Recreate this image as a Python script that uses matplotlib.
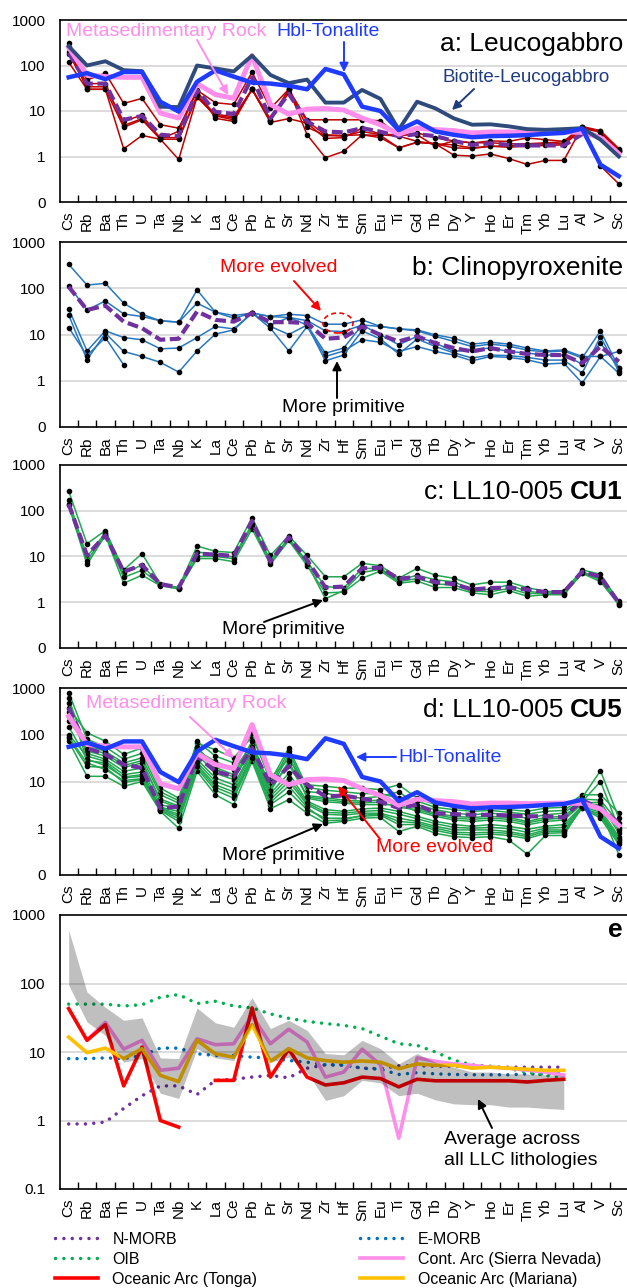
import numpy as np
import matplotlib
matplotlib.use("Agg")
import matplotlib.pyplot as plt
from matplotlib.patches import Ellipse
from matplotlib.ticker import NullLocator

plt.rcParams['font.family'] = ['Liberation Sans', 'DejaVu Sans']

nan = np.nan

elements = ['Cs', 'Rb', 'Ba', 'Th', 'U', 'Ta', 'Nb', 'K', 'La', 'Ce', 'Pb', 'Pr', 'Sr', 'Nd',
            'Zr', 'Hf', 'Sm', 'Eu', 'Ti', 'Gd', 'Tb', 'Dy', 'Y', 'Ho', 'Er', 'Tm', 'Yb', 'Lu',
            'Al', 'V', 'Sc']

# reference rocks used in panels a and d
hbl_tonalite = [55, 68, 50, 72, 72, 16, 9.7, 44, 78, 57, 42, 40, 36, 30, 84, 64, 12.5, 10, 3.8, 5.9,
                3.55, 3.0, 2.65, 2.8, 2.85, 2.95, 3.15, 3.3, 4.1, 0.66, 0.37]
metased_rock = [250, 62, 57, 55, 55, 9, 7, 40, 23, 19, 165, 14, 8.5, 11, 11.3, 10.5, 7, 5, 3.1, 4.2,
                3.9, 3.7, 3.3, 3.45, 3.45, 3.35, 3.4, 3.45, 3.4, 2.6, 1.15]
biotite_leucogabbro = [265, 100, 124, 79, 75, 12.4, 12.2, 100, 86, 74, 165, 62, 41, 49, 15.3, 15.3, 29,
                       18.5, 3.9, 16, 11.4, 6.9, 5.0, 5.1, 4.6, 4.0, 3.86, 4.0, 4.2, 2.34, 1.0]

# a: Leucogabbro samples
leuco_samples = [
    [305, 48, 68, 14.7, 18.9, 5.0, 4.2, 28.6, 15.2, 13.9, 71.6, 11.4, 30, 6.4, 6.4, 6.4, 6.4, 6.1, 2.8, 3.3,
     2.6, 2.2, 1.98, 2.2, 2.15, 2.55, 2.35, 2.15, 4.56, 3.7, 1.49],
    [180, 34, 34, 5.9, 8.2, 2.4, 2.4, 20.4, 7.8, 6.4, 30, 5.9, 30, 4.4, 2.9, 2.8, 3.55, 3.0, 2.8, 2.15,
     1.9, 1.8, 1.54, 1.68, 1.7, 1.8, 1.9, 1.9, 4.2, 3.4, 1.3],
    [118, 30, 30, 4.4, 6.4, 2.4, 3.6, 28, 6.9, 5.9, 30, 5.6, 6.8, 5.4, 2.5, 2.6, 4.2, 3.1, 3.0, 3.0,
     1.68, 2.2, 2.0, 2.0, 1.9, 1.9, 2.0, 2.1, 4.4, 3.6, 1.4],
    [250, 30, 30, 1.47, 2.9, 2.4, 0.86, 20.4, 8.0, 7.0, 30, 6.5, 30, 3.0, 0.94, 1.3, 3.0, 2.6, 1.55, 2.05,
     1.9, 1.07, 1.02, 1.14, 0.9, 0.67, 0.82, 0.82, 4.5, 0.62, 0.25],
    [200, 40, 40, 4.8, 6.8, 2.6, 2.6, 22, 8.5, 7.5, 30, 6.5, 25, 6.0, 3.0, 2.9, 3.0, 2.9, 1.55, 2.05,
     1.9, 1.55, 1.5, 1.68, 1.6, 1.7, 1.75, 1.8, 4.0, 2.8, 1.3],
]
leuco_avg = [190, 40, 40, 6.4, 7.8, 3.0, 2.8, 28.6, 9.6, 8.6, 55, 6.9, 24, 5.9, 3.55, 3.38, 4.2, 3.5, 2.8,
             3.1, 2.8, 2.2, 1.8, 1.95, 1.8, 1.75, 1.75, 1.75, 3.1, nan, nan]

# b: Clinopyroxenite samples
cpx_samples = [
    [330, 117, 128, 47.6, 27.4, 19.8, 18.5, 92, 30.4, 25.7, 29, 24.5, 27.4, 25.7, 16.7, 16.7, 20.7, 14.9,
     13.2, 12.6, 9.8, 8.3, 6.2, 6.8, 6.2, 5.1, 4.4, 4.66, 3.35, 3.35, 4.3],
    [114, 34, 53, 27.8, 24.5, 19.8, 18.5, 47.6, 30.4, 22.5, 29, 24.5, 23.3, 20, 12, 11.6, 16.1, 14.9,
     13.2, 12, 9.1, 7.1, 5.5, 6.2, 5.6, 4.6, 4.2, 4.4, 3.1, 12, 1.9],
    [36, 4.4, 12, 8.6, 7.7, 4.9, 5.1, 8.6, 14.9, 13.2, 29, 16.1, 23.3, 16.1, 3.95, 5.1, 16.1, 9.8,
     6.0, 9.1, 6.5, 4.3, 4.66, 5.1, 4.3, 3.95, 3.6, 3.6, 2.3, 6.5, 1.88],
    [26.5, 2.84, 10.7, 4.3, 3.35, 2.5, 1.54, 4.4, 10.2, 12.6, 29, 13.7, 4.4, 14.9, 3.35, 4.4, 7.7, 6.8,
     4.3, 5.5, 4.3, 3.6, 2.7, 3.35, 3.2, 2.84, 2.3, 2.4, 0.89, 3.35, 1.46],
    [14.1, 3.5, 8.6, 2.2, nan, nan, nan, nan, nan, nan, nan, 15, 10, 16, 2.7, 3.6, 12, 8,
     3.8, 8, 5.5, 4.0, 3.1, 3.6, 3.5, 3.2, 2.8, 2.8, 1.46, 9, 1.6],
]
cpx_avg = [108, 34, 42, 19, 13.7, 7.7, 8.1, 31.4, 20.7, 19, 28.9, 18.5, 18.5, 17.6, 8.1, 8.6, 14.9, 9.8,
           7.1, 9.1, 6.5, 5.1, 4.3, 5.1, 4.3, 3.8, 3.6, 3.6, 2.4, 5.5, 2.6]

# c: LL10-005 CU1 samples
cu1_samples = [
    [270, 19, 37, 5.1, 11.6, 2.5, 2.1, 16.9, 13, 12.2, 71, 10.6, 28, 10.6, 3.6, 3.6, 7.1, 6.3, 3.35, 5.5,
     3.9, 3.35, 2.4, 2.75, 2.75, 2.1, 1.72, 1.72, 5.1, 4.1, 1.05],
    [173, 9.8, 33, 4.3, 6.5, 2.4, 2.04, 12.6, 11, 9.8, 51, 8.3, 25, 7.7, 2.2, 2.04, 5.5, 5.5, 3.0, 3.9,
     3.1, 2.8, 1.9, 1.9, 2.4, 1.72, 1.6, 1.6, 4.6, 3.4, 0.97],
    [132, 6.7, 29, 2.6, 3.9, 2.3, 1.95, 9.0, 9, 7.7, 40, 6.7, 22.4, 6.3, 1.6, 1.67, 3.35, 4.8, 2.6, 2.9,
     2.1, 2.1, 1.6, 1.46, 1.8, 1.35, 1.46, 1.46, 4.3, 2.8, 0.89],
    [140, 8, 31, 3.5, 5, 2.4, 2.0, 10, 10, 9, 45, 7.5, 24, 7, 1.2, 1.8, 4.5, 5.2, 2.8, 3.3,
     2.5, 2.4, 1.75, 1.7, 2.0, 1.55, 1.55, 1.55, 4.45, 3.1, 0.93],
]
cu1_avg = [140, 10.6, 29, 4.66, 6.5, 2.5, 2.1, 11.6, 11, 10.3, 60, 7.7, 26.5, 8.3, 2.1, 2.2, 5.5, 5.7,
           3.24, 3.6, 2.75, 2.5, 1.9, 2.04, 2.1, 1.9, 1.67, 1.67, 4.66, 3.6, 0.97]

# d: LL10-005 CU5 samples
cu5_samples = [
    [380, 110, 73, 38, 52, 7.2, 4.4, 65, 48, 32, 90, 11.9, 30, 8.5, 7.9, 7.2, 7.2, 6.7, 8.5, 4.4,
     3.2, 2.9, 2.7, 2.7, 2.5, 2.3, 2.7, 2.8, 5.2, 5.2, 2.1],
    [800, 80, 55, 30, 40, 6.0, 3.9, 73, 35, 25, 110, 10, 52, 7.5, 6.5, 6.0, 5.5, 5.5, 4.4, 3.8,
     2.8, 2.5, 2.3, 2.4, 2.2, 2.0, 2.3, 2.4, 4.5, 17, 1.64],
    [200, 60, 44, 25, 32, 5.2, 3.45, 45, 27, 18, 60, 7.9, 45, 6.1, 5.6, 4.8, 4.4, 4.8, 6.0, 3.2,
     2.5, 2.1, 1.94, 2.1, 1.94, 1.64, 1.94, 2.1, 4.2, 4.0, 1.3],
    [600, 45, 35, 20, 25, 4.2, 3.0, 55, 20, 14, 73, 7.0, 23, 5.0, 4.5, 4.0, 3.8, 4.0, 3.6, 2.7,
     2.1, 1.8, 1.7, 1.8, 1.7, 1.4, 1.7, 1.8, 3.7, 10, 1.0],
    [300, 40, 30, 16.5, 19.5, 3.2, 2.6, 38, 15, 11, 50, 6.7, 38, 4.4, 3.7, 3.45, 3.2, 3.2, 3.2, 2.3,
     1.8, 1.5, 1.4, 1.5, 1.4, 1.18, 1.4, 1.5, 3.3, 3.2, 0.8],
    [100, 35, 27, 14, 16, 2.8, 2.3, 30, 11.9, 8.5, 44, 5.5, 15, 3.8, 2.5, 2.3, 2.6, 2.7, 2.3, 1.8,
     1.4, 1.2, 1.1, 1.2, 1.1, 0.95, 1.1, 1.2, 3.0, 2.5, 0.66],
    [480, 28, 25, 11.9, 12.9, 2.6, 1.8, 23, 8.5, 6.0, 35, 4.1, 10, 3.2, 2.0, 1.9, 2.1, 2.1, 1.64, 1.4,
     1.1, 0.92, 0.92, 0.92, 0.85, 0.72, 0.92, 0.92, 2.7, 2.0, 0.55],
    [85, 21, 20, 9.5, 11, 2.4, 1.4, 19, 6.5, 4.4, 30, 3.2, 6, 2.5, 1.64, 1.64, 1.8, 1.9, 1.2, 1.2,
     0.9, 0.75, 0.72, 0.75, 0.7, 0.6, 0.78, 0.8, 2.7, 1.64, 0.45],
    [73, 12.9, 12.9, 7.9, 10, 2.3, 1.0, 16.5, 5.2, 3.2, 27, 2.6, 4.1, 2.1, 1.28, 1.4, 1.64, 1.7, 0.85, 1.1,
     0.78, 0.66, 0.63, 0.66, 0.56, 0.28, 0.7, 0.7, 3.0, 2.5, 0.27],
    [250, 50, 40, 22, 28, 3.8, 2.8, 50, 18, 12.5, 55, 6.2, 27, 4.7, 4.1, 3.7, 3.5, 3.6, 2.8, 2.5,
     1.95, 1.65, 1.55, 1.65, 1.55, 1.3, 1.55, 1.65, 3.5, 3.6, 0.9],
    [150, 30, 22, 12.5, 14, 2.7, 2.0, 26, 10, 7.2, 40, 4.8, 12, 3.5, 2.2, 2.1, 2.3, 2.4, 2.0, 1.6,
     1.25, 1.05, 1.0, 1.05, 0.98, 0.82, 1.0, 1.05, 2.9, 2.2, 0.6],
    [90, 25, 18, 10.5, 11.5, 2.5, 1.6, 21, 7.5, 5.2, 32, 3.6, 8, 2.8, 1.45, 1.5, 1.9, 2.0, 1.4, 1.3,
     1.0, 0.82, 0.8, 0.82, 0.78, 0.66, 0.85, 0.86, 2.8, 1.8, 0.5],
]
cu5_avg = [380, 52, 38, 23, 19.5, 2.7, 2.9, 35, 16.5, 12.9, 52, 8.5, 21, 8.5, 4.8, 5.0, 4.3, 3.7, 2.7,
           3.2, 2.1, 2.0, 1.94, 1.94, 1.87, 1.8, 1.8, 1.7, 4.0, 2.6, 1.3]

# e: reference compositions, Cs..Lu
n_morb = [0.89, 0.89, 0.95, 1.5, 2.3, 3.2, 3.2, 2.4, 3.85, 4.0, 4.3, 4.55, 4.2, 5.8, 6.5, 6.5, 5.8, 5.7,
          6.3, 6.3, 6.2, 6.2, 6.1, 6.0, 6.0, 6.0, 6.0, 6.0]
e_morb = [8.0, 8.0, 8.2, 8.0, 8.9, 11.4, 11.4, 9.4, 8.9, 8.9, 8.4, 8.2, 7.5, 7.1, 6.5, 6.4, 5.8, 5.6,
          4.7, 5.0, 4.8, 4.7, 4.65, 4.65, 4.65, 4.8, 4.8, 5.0]
oib = [50, 50, 50, 47, 49, 63, 69, 51, 55, 47, 44, 36, 31, 28, 26, 24.5, 22, 17, 13.2, 12.5, 10, 7.6,
       6.5, 6.2, 5.7, 5.1, 4.55, 4.2]
cont_arc = [nan, 15, 27, 11, 14.8, 5.4, 5.8, 15.6, 12.8, 13.2, 34, 13.2, 21.5, 14, 4.3, 5.1, 11, 6.5,
            0.55, 8.2, 7.3, 6.7, 6.4, 6.0, 5.8, 5.4, 5.1, 4.6]
tonga = [43, 14.8, 25, 3.2, 11.8, 1.0, 0.8, nan, 3.85, 3.85, 44, 4.3, 11, 4.3, 3.3, 3.55, 4.3, 4.1,
         3.1, 4.0, 3.8, 3.8, 3.8, 3.8, 3.8, 3.65, 3.85, 4.0]
mariana = [16.5, 9.8, 11.4, 8.0, 11.2, 4.55, 3.7, 14.8, 9.4, 8.4, 25, 7.3, 11.2, 8.2, 7.5, 7.1, 7.4,
           7.1, 5.7, 6.7, 6.4, 6.4, 5.8, 6.0, 5.8, 5.6, 5.4, 5.4]
llc_upper = [600, 75, 45, 29, 31.5, 8.2, 8.0, 44, 26.7, 23, 62, 22, 29, 20.7, 9.5, 9.1, 14.8, 11.2,
             6.7, 9.5, 7.1, 6.0, 5.1, 5.1, 4.8, 4.8, 4.65, 4.55]
llc_lower = [95, 27.5, 17.5, 7.1, 8.0, 2.5, 2.1, 11.2, 8.2, 7.5, 26, 7.1, 8.4, 5.1, 1.96, 2.3, 3.85,
             3.55, 2.3, 2.5, 2.0, 1.75, 1.7, 1.7, 1.57, 1.57, 1.5, 1.45]

W, H = 627, 1288
PINK = '#FF8DEB'
BLUE = '#1F3BFF'
NAVY = '#2F4B7C'
PURPLE = '#7030A0'

fig = plt.figure(figsize=(W / 100, H / 100), dpi=100)


def P(x, y):
    # pixel position (from top-left) -> figure fraction
    return (x / W, 1 - y / H)


def make_axes(top, bottom, zero_label='0'):
    ax = fig.add_axes([59.5 / W, 1 - bottom / H, (628 - 59.5) / W, (bottom - top) / H])
    ax.set_yscale('log')
    ax.set_ylim(0.1, 1000)
    ax.set_yticks([0.1, 1, 10, 100, 1000])
    ax.set_yticklabels([zero_label, '1', '10', '100', '1000'])
    ax.yaxis.set_minor_locator(NullLocator())
    ax.tick_params(axis='y', length=0, pad=10, labelsize=11)
    ax.set_xlim(-0.5, 30.5)
    ax.set_xticks(np.arange(0.5, 30, 1))
    ax.set_xticklabels([])
    ax.set_xticks(np.arange(len(elements)), minor=True)
    ax.set_xticklabels(elements, minor=True, rotation=90)
    ax.tick_params(axis='x', which='major', direction='in', length=5, width=1)
    ax.tick_params(axis='x', which='minor', length=0, pad=7, labelsize=11)
    for g in [1, 10, 100]:
        ax.axhline(g, color='#D9D9D9', lw=1.3, zorder=0)
    for s in ax.spines.values():
        s.set_linewidth(1.2)
    return ax


def samples(ax, rows, color):
    x = np.arange(len(elements))
    for r in rows:
        ax.plot(x, r, color=color, lw=1.1, marker='o', ms=3, mfc='k', mec='k', zorder=2)


def average(ax, vals):
    ax.plot(np.arange(len(elements)), vals, color=PURPLE, lw=3, dashes=(2.6, 1.1),
            dash_capstyle='butt', zorder=3)


def arrow(xy_from, xy_to, color):
    fig.add_artist(matplotlib.patches.FancyArrowPatch(
        P(*xy_from), P(*xy_to), transform=fig.transFigure, arrowstyle='-|>',
        mutation_scale=13, color=color, lw=1.4, shrinkA=0, shrinkB=0))


def label(x, y, s, color='k', size=14, **kw):
    fig.text(*P(x, y), s, color=color, fontsize=size, ha='left', va='center', **kw)


renderer = fig.canvas.get_renderer()


def panel_title(y, regular, bold=None):
    if bold is None:
        fig.text(*P(623, y), regular, ha='right', va='baseline', fontsize=19)
        return
    tb = fig.text(*P(623, y), bold, ha='right', va='baseline', fontsize=19, fontweight='bold')
    x0 = tb.get_window_extent(renderer=renderer).x0
    fig.text((x0 - 7) / W, 1 - y / H, regular, ha='right', va='baseline', fontsize=19)


x = np.arange(len(elements))

# ---- a: Leucogabbro
ax_a = make_axes(20, 202)
samples(ax_a, leuco_samples, '#C00000')
average(ax_a, leuco_avg)
ax_a.plot(x, metased_rock, color=PINK, lw=3.6, zorder=4)
ax_a.plot(x, biotite_leucogabbro, color=NAVY, lw=2.8, zorder=4.5)
ax_a.plot(x, hbl_tonalite, color=BLUE, lw=3.2, zorder=5)
panel_title(51, 'a: Leucogabbro')
label(66, 32, 'Metasedimentary Rock', PINK)
arrow((197, 40), (228, 95), PINK)
label(276, 32, 'Hbl-Tonalite', BLUE)
arrow((344, 42), (344, 72), BLUE)
label(443, 77, 'Biotite-Leucogabbro', '#203C80', 13.5)
arrow((474, 89), (452, 110), '#203C80')

# ---- b: Clinopyroxenite
ax_b = make_axes(242, 427)
samples(ax_b, cpx_samples, '#2878C0')
average(ax_b, cpx_avg)
panel_title(275, 'b: Clinopyroxenite')
label(220, 267, 'More evolved', '#FF0000')
arrow((294, 281), (321, 311), '#FF0000')
ax_b.add_patch(Ellipse(P(338, 323), 30 / W, 20 / H, transform=fig.transFigure, fill=False,
                       edgecolor='#FF0000', lw=1.2, linestyle=(0, (3, 2)), clip_on=False, zorder=6))
label(282, 408, 'More primitive')
arrow((337, 398), (337, 361), 'k')

# ---- c: LL10-005 CU1
ax_c = make_axes(465, 648)
samples(ax_c, cu1_samples, '#20A850')
average(ax_c, cu1_avg)
panel_title(499, 'c: LL10-005', 'CU1')
label(222, 630, 'More primitive')
arrow((264, 622), (323, 600), 'k')

# ---- d: LL10-005 CU5
ax_d = make_axes(688, 875)
samples(ax_d, cu5_samples, '#20A850')
average(ax_d, cu5_avg)
ax_d.plot(x, metased_rock, color=PINK, lw=3.6, zorder=4)
ax_d.plot(x, hbl_tonalite, color=BLUE, lw=3.2, zorder=5)
panel_title(717, 'd: LL10-005', 'CU5')
label(86, 704, 'Metasedimentary Rock', PINK)
arrow((190, 717), (234, 758), PINK)
label(398, 757, 'Hbl-Tonalite', BLUE)
arrow((396, 757), (356, 757), BLUE)
label(376, 847, 'More evolved', '#FF0000')
arrow((380, 839), (338, 786), '#FF0000')
label(222, 855, 'More primitive')
arrow((264, 849), (323, 824), 'k')

# ---- e: comparison with reference compositions
ax_e = make_axes(915, 1189, '0.1')
xe = np.arange(len(n_morb))
dots = (0, (0.01, 2.4))
h1, = ax_e.plot(xe, n_morb, color=PURPLE, lw=2.5, ls=dots, dash_capstyle='round', label='N-MORB')
h2, = ax_e.plot(xe, e_morb, color='#0070C0', lw=2.5, ls=dots, dash_capstyle='round', label='E-MORB')
h3, = ax_e.plot(xe, oib, color='#00B050', lw=2.5, ls=dots, dash_capstyle='round', label='OIB')
h4, = ax_e.plot(xe, cont_arc, color=PINK, lw=2.6, label='Cont. Arc (Sierra Nevada)')
h5, = ax_e.plot(xe, tonga, color='#FF0000', lw=2.6, label='Oceanic Arc (Tonga)')
h6, = ax_e.plot(xe, mariana, color='#FFC000', lw=2.6, label='Oceanic Arc (Mariana)')
ax_e.fill_between(xe, llc_lower, llc_upper, color='k', alpha=0.25, lw=0, zorder=5)
fig.text(*P(623, 937), 'e', ha='right', va='baseline', fontsize=19, fontweight='bold')
fig.text(*P(444, 1150), 'Average across\nall LLC lithologies', fontsize=14, ha='left',
         va='center', linespacing=1.3)
arrow((492, 1128), (478, 1099), 'k')

leg_kw = dict(frameon=False, fontsize=11.5, handlelength=2.7, handletextpad=0.9,
              labelspacing=0.3, borderpad=0, borderaxespad=0, loc='upper left')
fig.legend(handles=[h1, h3, h5], bbox_to_anchor=P(55, 1232), **leg_kw)
fig.legend(handles=[h2, h4, h6], bbox_to_anchor=P(360, 1232), **leg_kw)

fig.savefig('out.png', dpi=100)
